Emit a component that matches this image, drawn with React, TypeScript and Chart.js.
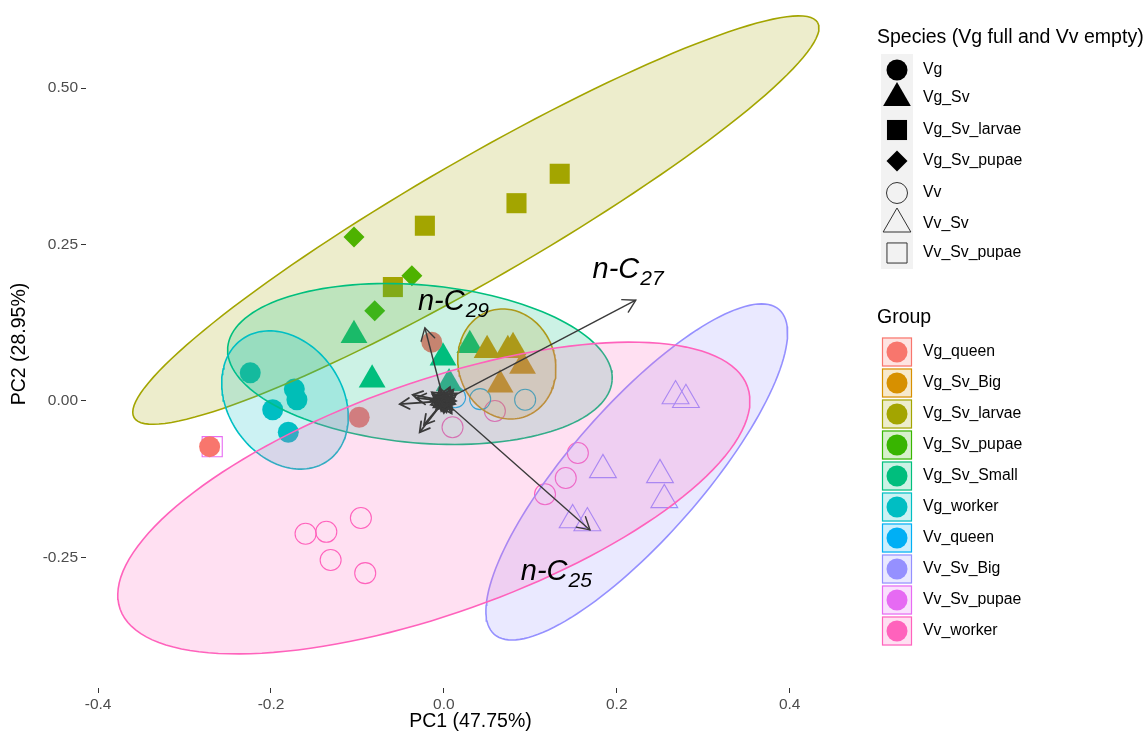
import React, { useEffect, useRef } from 'react';
import { Chart, registerables } from 'chart.js';

Chart.register(...registerables);

const FONT = "'Liberation Sans', Arial, Helvetica, sans-serif";

// ---- axes ----
const X_MIN = -0.414;
const X_MAX = 0.4756;
const Y_MIN = -0.4585;
const Y_MAX = 0.6406;
const X_TICKS = [-0.4, -0.2, 0.0, 0.2, 0.4];
const X_TICK_LABELS = ['-0.4', '-0.2', '0.0', '0.2', '0.4'];
const Y_TICKS = [-0.25, 0.0, 0.25, 0.5];
const Y_TICK_LABELS = ['-0.25', '0.00', '0.25', '0.50'];
const X_TITLE = 'PC1 (47.75%)';
const Y_TITLE = 'PC2 (28.95%)';

// ---- groups ----
const GROUPS = ['Vg_queen', 'Vg_Sv_Big', 'Vg_Sv_larvae', 'Vg_Sv_pupae', 'Vg_Sv_Small', 'Vg_worker', 'Vv_queen', 'Vv_Sv_Big', 'Vv_Sv_pupae', 'Vv_worker'];
const GROUP_COLORS = ['#F8766D', '#D89000', '#A3A500', '#39B600', '#00BF7D', '#00BFC4', '#00B0F6', '#9590FF', '#E76BF3', '#FF62BC'];
const GROUP_SPECIES = ['Vg', 'Vg_Sv', 'Vg_Sv_larvae', 'Vg_Sv_pupae', 'Vg_Sv', 'Vg', 'Vv', 'Vv_Sv', 'Vv_Sv_pupae', 'Vv'];

// ---- species (shape legend) ----
const SPECIES = ['Vg', 'Vg_Sv', 'Vg_Sv_larvae', 'Vg_Sv_pupae', 'Vv', 'Vv_Sv', 'Vv_Sv_pupae'];
const SPECIES_SHAPES = ['circle', 'triangle', 'rect', 'rectRot', 'circle', 'triangle', 'rect'];
const SPECIES_FILLED = [true, true, true, true, false, false, false];
const SHAPE_RADIUS: Record<string, number> = { circle: 10.5, triangle: 15.5, rect: 14.2, rectRot: 10.5 };

// ---- scores (PC1, PC2) per group ----
const VG_QUEEN_PC1 = [-0.014, -0.098, -0.271];
const VG_QUEEN_PC2 = [0.094, -0.026, -0.073];
const VG_SV_BIG_PC1 = [0.050, 0.074, 0.080, 0.091, 0.065];
const VG_SV_BIG_PC2 = [0.081, 0.081, 0.086, 0.056, 0.026];
const VG_SV_LARVAE_PC1 = [-0.059, -0.022, 0.084, 0.134];
const VG_SV_LARVAE_PC2 = [0.182, 0.280, 0.316, 0.363];
const VG_SV_PUPAE_PC1 = [-0.104, -0.037, -0.080];
const VG_SV_PUPAE_PC2 = [0.262, 0.200, 0.144];
const VG_SV_SMALL_PC1 = [-0.104, -0.083, -0.001, 0.030, 0.006];
const VG_SV_SMALL_PC2 = [0.105, 0.034, 0.069, 0.089, 0.028];
const VG_WORKER_PC1 = [-0.224, -0.173, -0.170, -0.198, -0.180];
const VG_WORKER_PC2 = [0.045, 0.019, 0.002, -0.014, -0.050];
const VV_QUEEN_PC1 = [0.013, 0.042, 0.094];
const VV_QUEEN_PC2 = [0.006, 0.003, 0.002];
const VV_SV_BIG_PC1 = [0.268, 0.280, 0.184, 0.250, 0.255, 0.149, 0.166];
const VV_SV_BIG_PC2 = [0.008, 0.002, -0.110, -0.118, -0.158, -0.190, -0.195];
const VV_SV_PUPAE_PC1 = [-0.268];
const VV_SV_PUPAE_PC2 = [-0.073];
const VV_WORKER_PC1 = [-0.160, -0.136, -0.131, -0.096, -0.091, 0.010, 0.059, 0.117, 0.141, 0.155];
const VV_WORKER_PC2 = [-0.212, -0.209, -0.254, -0.187, -0.275, -0.042, -0.016, -0.149, -0.123, -0.083];

const GROUP_PC1 = [VG_QUEEN_PC1, VG_SV_BIG_PC1, VG_SV_LARVAE_PC1, VG_SV_PUPAE_PC1, VG_SV_SMALL_PC1, VG_WORKER_PC1, VV_QUEEN_PC1, VV_SV_BIG_PC1, VV_SV_PUPAE_PC1, VV_WORKER_PC1];
const GROUP_PC2 = [VG_QUEEN_PC2, VG_SV_BIG_PC2, VG_SV_LARVAE_PC2, VG_SV_PUPAE_PC2, VG_SV_SMALL_PC2, VG_WORKER_PC2, VV_QUEEN_PC2, VV_SV_BIG_PC2, VV_SV_PUPAE_PC2, VV_WORKER_PC2];

// ---- confidence ellipses: centre and two semi-axis vectors (data units) ----
const ELLIPSE_GROUPS = ['Vg_Sv_Big', 'Vg_Sv_larvae', 'Vg_Sv_Small', 'Vg_worker', 'Vv_Sv_Big', 'Vv_worker'];
const ELLIPSE_CX = [0.0728, 0.037, -0.0277, -0.1838, 0.2231, -0.0116];
const ELLIPSE_CY = [0.0591, 0.289, 0.0591, 0.0016, -0.1134, -0.1550];
const ELLIPSE_UX = [0.0566, 0.3954, 0.2223, 0.0494, 0.1648, 0.3629];
const ELLIPSE_UY = [0.0, 0.3155, -0.0268, -0.0973, 0.2593, 0.1776];
const ELLIPSE_VX = [0.0046, 0.0347, -0.0080, -0.0540, 0.0573, 0.0447];
const ELLIPSE_VY = [-0.0879, -0.0830, -0.1257, -0.0522, -0.0696, -0.1746];

// ---- loadings (arrows) ----
const LOADING_PC1 = [0.222, -0.022, 0.169, -0.051, -0.036, -0.028, -0.023, -0.032, -0.014, 0.009, 0.013, 0.003, -0.009, -0.016, -0.005, 0.005, -0.007, 0.012, 0.000, -0.013, 0.008, -0.010, 0.011, -0.004, 0.006, -0.012, 0.002, 0.010, -0.006, 0.004, 0.014, -0.015, 0.007, -0.008, 0.001, 0.015, -0.003, 0.009];
const LOADING_PC2 = [0.161, 0.117, -0.206, -0.005, 0.010, -0.050, -0.038, 0.005, 0.014, 0.014, -0.005, -0.018, -0.014, 0.002, 0.021, 0.010, -0.008, 0.005, -0.019, 0.010, -0.012, -0.004, 0.018, 0.016, 0.003, -0.010, 0.008, -0.014, 0.012, -0.006, 0.000, -0.006, 0.022, 0.007, -0.011, 0.012, -0.016, -0.020];
const LOADING_LABEL_MAIN = ['n-C', 'n-C', 'n-C'];
const LOADING_LABEL_SUB = ['27', '29', '25'];
const LOADING_LABEL_PC1 = [0.172, -0.030, 0.089];
const LOADING_LABEL_PC2 = [0.196, 0.145, -0.286];

function rgba(hex: string, a: number) {
  const n = parseInt(hex.slice(1), 16);
  return `rgba(${(n >> 16) & 255},${(n >> 8) & 255},${n & 255},${a})`;
}

function ellipsePoints(i: number) {
  const pts: { x: number; y: number }[] = [];
  const N = 144;
  for (let k = 0; k <= N; k++) {
    const t = (k / N) * Math.PI * 2;
    pts.push({
      x: ELLIPSE_CX[i] + ELLIPSE_UX[i] * Math.cos(t) + ELLIPSE_VX[i] * Math.sin(t),
      y: ELLIPSE_CY[i] + ELLIPSE_UY[i] * Math.cos(t) + ELLIPSE_VY[i] * Math.sin(t),
    });
  }
  return pts;
}

function shapePath(ctx: CanvasRenderingContext2D, shape: string, x: number, y: number, r: number) {
  ctx.beginPath();
  if (shape === 'circle') {
    ctx.arc(x, y, r, 0, Math.PI * 2);
  } else if (shape === 'triangle') {
    for (let k = 0; k < 3; k++) {
      const a = (k * 2 * Math.PI) / 3;
      const px = x + Math.sin(a) * r;
      const py = y - Math.cos(a) * r;
      if (k === 0) ctx.moveTo(px, py); else ctx.lineTo(px, py);
    }
  } else if (shape === 'rect') {
    const s = r * Math.SQRT1_2;
    ctx.rect(x - s, y - s, 2 * s, 2 * s);
  } else if (shape === 'rectRot') {
    ctx.moveTo(x - r, y); ctx.lineTo(x, y - r); ctx.lineTo(x + r, y); ctx.lineTo(x, y + r);
  }
  ctx.closePath();
}

const arrowHeadPlugin = {
  id: 'arrowHeads',
  afterDatasetsDraw(chart: any) {
    const { ctx, scales } = chart;
    const x0 = scales.x.getPixelForValue(0);
    const y0 = scales.y.getPixelForValue(0);
    ctx.save();
    ctx.strokeStyle = '#3a3a3a';
    ctx.lineCap = 'round';
    for (let i = 0; i < LOADING_PC1.length; i++) {
      const x1 = scales.x.getPixelForValue(LOADING_PC1[i]);
      const y1 = scales.y.getPixelForValue(LOADING_PC2[i]);
      const ang = Math.atan2(y1 - y0, x1 - x0);
      const L = i < 3 ? 14 : 11;
      const h = Math.PI / 6;
      ctx.lineWidth = i < 3 ? 1.4 : 1.8;
      ctx.beginPath();
      ctx.moveTo(x1 - L * Math.cos(ang - h), y1 - L * Math.sin(ang - h));
      ctx.lineTo(x1, y1);
      ctx.lineTo(x1 - L * Math.cos(ang + h), y1 - L * Math.sin(ang + h));
      ctx.stroke();
    }
    ctx.fillStyle = '#000';
    ctx.textBaseline = 'alphabetic';
    ctx.textAlign = 'left';
    for (let i = 0; i < LOADING_LABEL_MAIN.length; i++) {
      const lx = scales.x.getPixelForValue(LOADING_LABEL_PC1[i]);
      const ly = scales.y.getPixelForValue(LOADING_LABEL_PC2[i]);
      ctx.font = `italic 29px ${FONT}`;
      ctx.fillText(LOADING_LABEL_MAIN[i], lx, ly);
      const w = ctx.measureText(LOADING_LABEL_MAIN[i]).width;
      ctx.font = `italic 21px ${FONT}`;
      ctx.fillText(LOADING_LABEL_SUB[i], lx + w + 1, ly + 7);
    }
    ctx.restore();
  },
};

const SPECIES_ROW_Y = [70, 98, 130, 161, 193, 224, 253];
const GROUP_ROW_Y0 = 352;
const GROUP_ROW_STEP = 31;

const legendPlugin = {
  id: 'ggLegends',
  afterDraw(chart: any) {
    const { ctx } = chart;
    ctx.save();
    ctx.fillStyle = '#000';
    ctx.textAlign = 'left';
    ctx.textBaseline = 'middle';
    ctx.font = `19.5px ${FONT}`;
    ctx.fillText('Species (Vg full and Vv empty)', 877, 38);
    ctx.fillStyle = '#F2F2F2';
    ctx.fillRect(881, 54, 32, 215);
    const speciesR: Record<string, number> = { circle: 10.5, triangle: 16, rect: 14.2, rectRot: 10.5 };
    for (let i = 0; i < SPECIES.length; i++) {
      const y = SPECIES_ROW_Y[i];
      shapePath(ctx, SPECIES_SHAPES[i], 897, y, speciesR[SPECIES_SHAPES[i]]);
      if (SPECIES_FILLED[i]) {
        ctx.fillStyle = '#000';
        ctx.fill();
      } else {
        ctx.strokeStyle = '#333';
        ctx.lineWidth = 1;
        ctx.stroke();
      }
      ctx.fillStyle = '#000';
      ctx.font = `15.8px ${FONT}`;
      ctx.fillText(SPECIES[i], 923, y);
    }
    ctx.font = `19.5px ${FONT}`;
    ctx.fillStyle = '#000';
    ctx.fillText('Group', 877, 318);
    for (let i = 0; i < GROUPS.length; i++) {
      const y = GROUP_ROW_Y0 + i * GROUP_ROW_STEP;
      const c = GROUP_COLORS[i];
      ctx.fillStyle = '#fff';
      ctx.fillRect(882, y - 14.5, 30, 29);
      ctx.beginPath();
      ctx.arc(897, y, 10.5, 0, Math.PI * 2);
      ctx.fillStyle = c;
      ctx.fill();
      ctx.fillStyle = rgba(c, 0.2);
      ctx.fillRect(882, y - 14.5, 30, 29);
      ctx.strokeStyle = c;
      ctx.lineWidth = 1.2;
      ctx.strokeRect(882.5, y - 14, 29, 28);
      ctx.fillStyle = '#000';
      ctx.font = `15.8px ${FONT}`;
      ctx.fillText(GROUPS[i], 923, y);
    }
    ctx.restore();
  },
};

export default function App() {
  const ref = useRef<HTMLCanvasElement>(null);
  useEffect(() => {
    if (!ref.current) return;
    // ellipses drawn over the points (lower order = drawn later / on top)
    const ellipseOrder = [8, 7, 6, 5, 4, 3];
    const ellipseDatasets = ELLIPSE_GROUPS.map((g, i) => {
      const c = GROUP_COLORS[GROUPS.indexOf(g)];
      return {
        type: 'line',
        label: g + ' ellipse',
        data: ellipsePoints(i),
        borderColor: c,
        borderWidth: 1.6,
        backgroundColor: rgba(c, 0.2),
        fill: 'shape',
        pointRadius: 0,
        tension: 0,
        clip: false,
        order: ellipseOrder[i],
      };
    });
    const pointDatasets = GROUPS.map((g, i) => {
      const sp = SPECIES.indexOf(GROUP_SPECIES[i]);
      const shape = SPECIES_SHAPES[sp];
      const filled = SPECIES_FILLED[sp];
      const c = GROUP_COLORS[i];
      return {
        type: 'scatter',
        label: g,
        data: GROUP_PC1[i].map((x, j) => ({ x, y: GROUP_PC2[i][j] })),
        pointStyle: shape,
        pointRadius: SHAPE_RADIUS[shape],
        backgroundColor: filled ? c : 'rgba(0,0,0,0)',
        borderColor: c,
        borderWidth: filled ? 0 : 1.1,
        order: 12,
      };
    });
    const arrowDatasets = LOADING_PC1.map((x, i) => ({
      type: 'line',
      label: 'loading ' + i,
      data: [{ x: 0, y: 0 }, { x, y: LOADING_PC2[i] }],
      borderColor: '#3a3a3a',
      borderWidth: i < 3 ? 1.4 : 1.8,
      pointRadius: 0,
      fill: false,
      order: 1,
    }));

    const chart = new Chart(ref.current, {
      type: 'scatter',
      data: { datasets: [...arrowDatasets, ...pointDatasets, ...ellipseDatasets] as any },
      options: {
        responsive: false,
        animation: false,
        devicePixelRatio: 1,
        events: [],
        layout: { autoPadding: false, padding: { left: 0, right: 293, top: 0, bottom: 0 } },
        plugins: { legend: { display: false }, tooltip: { enabled: false } },
        scales: {
          x: {
            type: 'linear',
            min: X_MIN,
            max: X_MAX,
            afterBuildTicks: (axis: any) => { axis.ticks = X_TICKS.map((v) => ({ value: v })); },
            afterFit: (axis: any) => { axis.height = 45; axis.paddingLeft = 0; axis.paddingRight = 0; },
            ticks: {
              callback: (v: any) => X_TICK_LABELS[X_TICKS.indexOf(Number(v))] ?? '',
              color: '#4D4D4D',
              font: { family: FONT, size: 15.5 },
              padding: 2,
              maxRotation: 0,
            },
            grid: { display: true, drawOnChartArea: false, drawTicks: true, tickLength: 5, color: '#333333', lineWidth: 1 },
            border: { display: false },
            title: { display: true, text: X_TITLE, color: '#000', font: { family: FONT, size: 19.5 }, padding: { top: 0, bottom: 0 } },
          },
          y: {
            type: 'linear',
            min: Y_MIN,
            max: Y_MAX,
            afterBuildTicks: (axis: any) => { axis.ticks = Y_TICKS.map((v) => ({ value: v })); },
            afterFit: (axis: any) => { axis.width = 86; axis.paddingTop = 0; axis.paddingBottom = 0; },
            ticks: {
              callback: (v: any) => Y_TICK_LABELS[Y_TICKS.indexOf(Number(v))] ?? '',
              color: '#4D4D4D',
              font: { family: FONT, size: 15.5 },
              padding: 3,
            },
            grid: { display: true, drawOnChartArea: false, drawTicks: true, tickLength: 5, color: '#333333', lineWidth: 1 },
            border: { display: false },
            title: { display: true, text: Y_TITLE, color: '#000', font: { family: FONT, size: 19.5 }, padding: { top: 8, bottom: 0 } },
          },
        },
      } as any,
      plugins: [arrowHeadPlugin, legendPlugin],
    });
    return () => chart.destroy();
  }, []);
  return (
    <div style={{ position: 'absolute', left: 0, top: 0, width: 1148, height: 733, background: '#fff' }}>
      <canvas ref={ref} width={1148} height={733} style={{ width: 1148, height: 733, display: 'block' }} />
    </div>
  );
}
